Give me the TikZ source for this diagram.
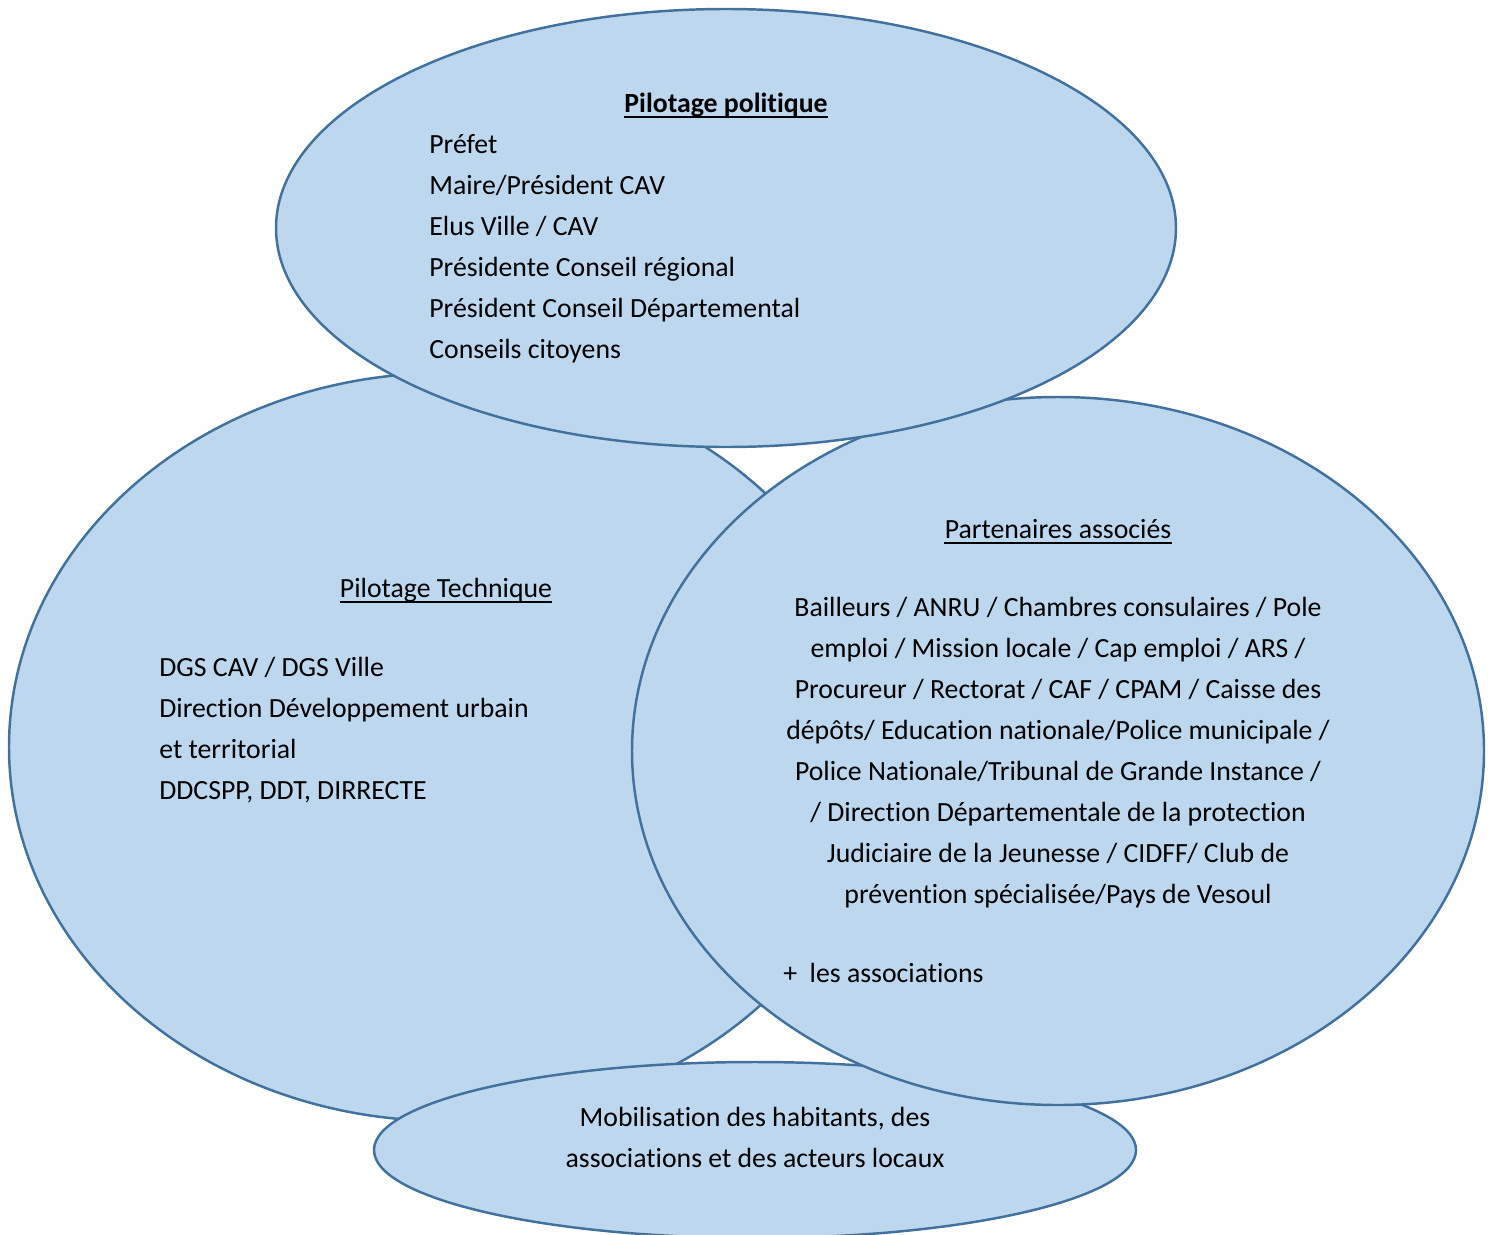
\documentclass[tikz,border=0pt]{standalone}
\usepackage{fontspec}
\setmainfont{Carlito}[Ligatures=NoCommon]
\definecolor{bubblefill}{RGB}{189,215,238}
\definecolor{bubbleline}{RGB}{65,113,156}

\begin{document}
\begin{tikzpicture}[x=0.02cm, y=-0.02cm,
    bubble/.style={fill=bubblefill, draw=bubbleline, line width=1.4pt},
    txt/.style={inner sep=0pt, font=\fontsize{15.8}{23.2}\selectfont},
    boldtxt/.style={inner sep=0pt, font=\fontsize{15.8}{23.2}\selectfont\bfseries},
    uline/.style={line width=0.9pt}]
    \useasboundingbox (0,0) rectangle (1494,1234);

    % Ellipses, back to front
    \draw[bubble] (445,747) ellipse [x radius=436, y radius=374]; % Pilotage technique
    \draw[bubble] (755,1150) ellipse [x radius=381, y radius=88]; % Mobilisation
    \draw[bubble] (1058,751) ellipse [x radius=426, y radius=354]; % Partenaires
    \draw[bubble] (726,228) ellipse [x radius=450, y radius=219]; % Pilotage politique

    % Pilotage politique
    \node[boldtxt, anchor=base] (polhead) at (726,112) {Pilotage politique};
    \draw[uline] ([yshift=-3pt]polhead.base west) -- ([yshift=-3pt]polhead.base east);
    \foreach \entry [count=\i from 0] in {Préfet, Maire/Président CAV, Elus Ville / CAV,
        Présidente Conseil régional, Président Conseil Départemental, Conseils citoyens}
        \node[txt, anchor=base west] (pol\i) at (429,153+41*\i) {\entry};

    % Pilotage technique
    \node[txt, anchor=base] (techhead) at (446,597) {Pilotage Technique};
    \draw[uline] ([yshift=-3pt]techhead.base west) -- ([yshift=-3pt]techhead.base east);
    \foreach \entry [count=\i from 0] in {DGS CAV / DGS Ville, Direction Développement urbain,
        et territorial, {DDCSPP, DDT, DIRRECTE}}
        \node[txt, anchor=base west] (tech\i) at (159,676+41*\i) {\entry};

    % Partenaires associes
    \node[txt, anchor=base] (parthead) at (1058,538) {Partenaires associés};
    \draw[uline] ([yshift=-3pt]parthead.base west) -- ([yshift=-3pt]parthead.base east);
    \foreach \entry [count=\i from 0] in {Bailleurs / ANRU / Chambres consulaires / Pole,
        emploi / Mission locale / Cap emploi / ARS /,
        Procureur / Rectorat / CAF / CPAM / Caisse des,
        dépôts/ Education nationale/Police municipale /,
        Police Nationale/Tribunal de Grande Instance /,
        / Direction Départementale de la protection,
        Judiciaire de la Jeunesse / CIDFF/ Club de,
        prévention spécialisée/Pays de Vesoul}
        \node[txt, anchor=base] (part\i) at (1058,616+41.1*\i) {\entry};
    \node[txt, anchor=base west] (assoc) at (783,982) {+\ \ les associations};

    % Mobilisation
    \node[txt, anchor=base] (mob1) at (755,1126) {Mobilisation des habitants, des};
    \node[txt, anchor=base] (mob2) at (755,1167) {associations et des acteurs locaux};
\end{tikzpicture}
\end{document}
